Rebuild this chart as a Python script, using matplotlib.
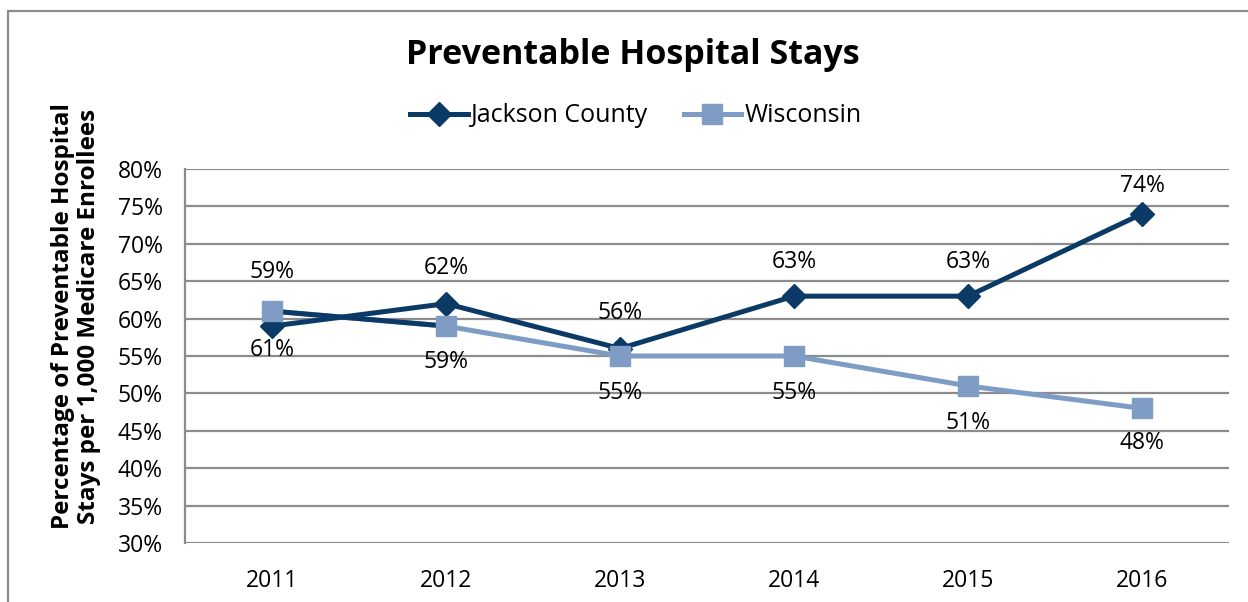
import matplotlib
matplotlib.use("Agg")
import matplotlib.pyplot as plt
from matplotlib.patches import Rectangle
from matplotlib.lines import Line2D

plt.rcParams['font.family'] = ['Open Sans', 'DejaVu Sans']

# data
years = ["2011", "2012", "2013", "2014", "2015", "2016"]
jackson = [59, 62, 56, 63, 63, 74]
wisconsin = [61, 59, 55, 55, 51, 48]
yticks = [30, 35, 40, 45, 50, 55, 60, 65, 70, 75, 80]

# label offsets (pixels) as in the original
jackson_off = [54, 36, 36, 34, 34, 28]
wisconsin_off = [-39, -36, -37, -37, -37, -35]

dark = "#0C3A66"
light = "#7F9CC4"
grid = "#8C8C8C"

fig = plt.figure(figsize=(12.48, 6.02), dpi=100)
ax = fig.add_axes([185/1248, 1-543/602, (1229-185)/1248, (543-169)/602])

x = list(range(len(years)))
ax.plot(x, wisconsin, color=light, lw=3.6, zorder=3, solid_capstyle='round')
# first wisconsin segment is drawn dark in the original
ax.plot(x[:2], wisconsin[:2], color=dark, lw=3.6, zorder=3, solid_capstyle='round')
ax.plot(x, jackson, color=dark, lw=3.6, marker='D', ms=12.5, zorder=4,
        solid_capstyle='round')
ax.plot(x, wisconsin, color=light, marker='s', ms=14.5, lw=0, zorder=5)

for i in x:
    ax.annotate(f"{jackson[i]}%", (i, jackson[i]), xytext=(0, jackson_off[i]),
                textcoords='offset pixels', ha='center', va='center', fontsize=16.5)
    ax.annotate(f"{wisconsin[i]}%", (i, wisconsin[i]), xytext=(0, wisconsin_off[i]),
                textcoords='offset pixels', ha='center', va='center', fontsize=16.5)

ax.set_xlim(-0.5, len(years) - 0.5)
ax.set_ylim(30, 80)
ax.set_yticks(yticks)
ax.set_yticklabels([f"{v}%" for v in yticks], fontsize=16.5)
ax.set_xticks(x)
ax.set_xticklabels(years, fontsize=16.5)
ax.tick_params(length=0)
ax.tick_params(axis='y', pad=16)
ax.tick_params(axis='x', pad=19)
ax.yaxis.grid(True, color=grid, lw=1.6)
ax.set_axisbelow(True)
for s in ['top', 'right', 'bottom']:
    ax.spines[s].set_visible(False)
ax.spines['left'].set_color(grid)
ax.spines['left'].set_linewidth(1.6)

fig.text(633/1248, 1-55/602, "Preventable Hospital Stays", ha='center', va='center',
         fontsize=24.5, fontweight='bold')
fig.text(76/1248, 1-316/602,
         "Percentage of Preventable Hospital\nStays per 1,000 Medicare Enrollees",
         rotation=90, ha='center', va='center', multialignment='center',
         fontsize=17.5, fontweight='bold', linespacing=1.15)

handles = [Line2D([], [], color=dark, lw=3.6, marker='D', ms=12.5),
           Line2D([], [], color=light, lw=3.6, marker='s', ms=14.5)]
fig.legend(handles, ["Jackson County", "Wisconsin"], loc='center',
           bbox_to_anchor=(636/1248, 1-116/602), ncol=2, frameon=False,
           fontsize=18, handlelength=2.3, handletextpad=0.15, columnspacing=1.4)

fig.patches.append(Rectangle((8/1248, -0.1), 1.2, 1-11/602+0.1, transform=fig.transFigure,
                             fill=False, edgecolor="#8C8C8C", lw=1.6))

fig.savefig("out.png", dpi=100)
